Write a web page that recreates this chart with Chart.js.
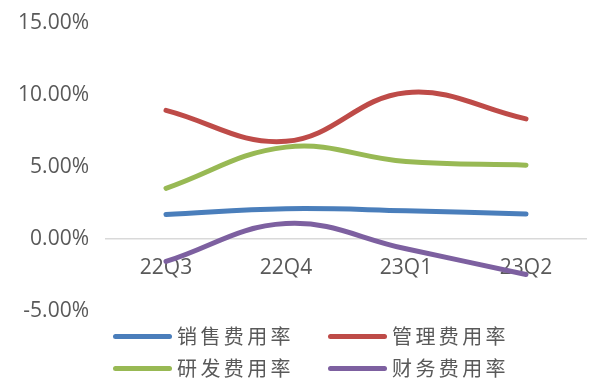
<!DOCTYPE html>
<html>
<head>
<meta charset="utf-8">
<script src="https://cdn.jsdelivr.net/npm/chart.js@4"></script>
<style>
  body { margin: 0; background: #fff; }
  #wrap { position: relative; width: 589px; height: 378px; }
  #legend { position: absolute; left: 0; top: 0; width: 589px; height: 378px; pointer-events: none; }
  .item { position: absolute; height: 30px; }
  .swatch { position: absolute; top: 13px; left: 0; width: 59px; height: 5px; border-radius: 3px; }
  .text { position: absolute; left: 64px; top: 0; line-height: 30px; white-space: nowrap;
          font-family: "Noto Sans CJK SC", sans-serif; font-size: 20px; letter-spacing: 3.4px; color: #595959; }
</style>
</head>
<body>
<div id="wrap">
  <canvas id="chart" width="589" height="378"></canvas>
  <div id="legend"></div>
</div>
<script>
// quarters
const quarters = ["22Q3", "22Q4", "23Q1", "23Q2"];

// expense ratios, in %
const salesRate = [1.70, 2.10, 1.96, 1.73];
const adminRate = [8.93, 6.78, 10.16, 8.34];
const rndRate = [3.52, 6.38, 5.38, 5.13];
const financeRate = [-1.56, 1.07, -0.68, -2.47];

const seriesNames = ["销售费用率", "管理费用率", "研发费用率", "财务费用率"];
const seriesColors = ["#4a7ebb", "#be4b48", "#98b954", "#7d60a0"];
const seriesData = [salesRate, adminRate, rndRate, financeRate];

// y axis ticks
const yMin = -5;
const yMax = 15;
const yStep = 5;

function buildDatasets() {
	return seriesData.map((data, i) => ({
		label: seriesNames[i],
		data: data,
		borderColor: seriesColors[i],
		backgroundColor: seriesColors[i],
		borderWidth: 5,
		borderCapStyle: "round",
		tension: 0.4,
		pointRadius: 0,
		fill: false,
		clip: false,
	}));
}

// legend: two columns, two rows under the plot
function buildLegend() {
	const legend = document.getElementById("legend");
	const cols = [113, 328];
	const rows = [321, 353];
	seriesNames.forEach((name, i) => {
		const item = document.createElement("div");
		item.className = "item";
		item.style.left = cols[i % 2] + "px";
		item.style.top = rows[Math.floor(i / 2)] + "px";
		const sw = document.createElement("div");
		sw.className = "swatch";
		sw.style.background = seriesColors[i];
		const txt = document.createElement("div");
		txt.className = "text";
		txt.textContent = name;
		item.appendChild(sw);
		item.appendChild(txt);
		legend.appendChild(item);
	});
}

const tickFont = { family: "'Open Sans', sans-serif", size: 21 };

new Chart(document.getElementById("chart"), {
	type: "line",
	data: { labels: quarters, datasets: buildDatasets() },
	options: {
		responsive: false,
		devicePixelRatio: 1,
		animation: false,
		layout: { padding: { top: 23, bottom: 67, left: 0, right: 3 } },
		plugins: { legend: { display: false }, tooltip: { enabled: false } },
		scales: {
			x: {
				offset: true,
				position: { y: 0 },
				grid: { color: "transparent", drawTicks: false },
				border: { display: true, color: "#d9d9d9", width: 1.5 },
				ticks: { color: "#595959", font: tickFont, padding: 16, maxRotation: 0 },
				afterFit: (scale) => {
					scale.height = 0;
					scale.paddingLeft = 0;
					scale.paddingRight = 0;
				},
			},
			y: {
				min: yMin,
				max: yMax,
				grid: { display: false, drawTicks: false },
				border: { display: false },
				ticks: {
					stepSize: yStep,
					color: "#595959",
					font: tickFont,
					padding: 17,
					callback: (v) => v.toFixed(2) + "%",
				},
				afterFit: (scale) => {
					scale.width = 106;
					scale.paddingTop = 0;
					scale.paddingBottom = 0;
				},
			},
		},
	},
});

buildLegend();
</script>
</body>
</html>
